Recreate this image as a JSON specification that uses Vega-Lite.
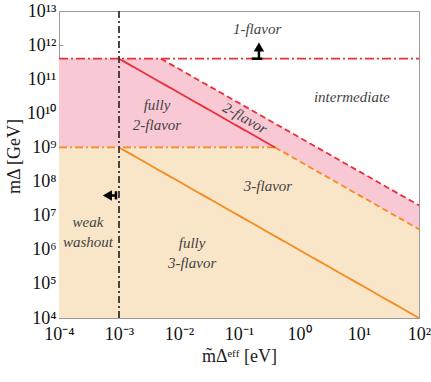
{
  "$schema": "https://vega.github.io/schema/vega-lite/v6.json",
  "width": 360,
  "height": 307,
  "autosize": "none",
  "padding": {"left": 59, "top": 11, "right": 12, "bottom": 64},
  "background": "white",
  "config": {
    "view": {"stroke": "#9a9a9a", "strokeWidth": 1},
    "font": "Liberation Serif",
    "axis": {
      "grid": false,
      "domainColor": "#9a9a9a",
      "tickColor": "#9a9a9a",
      "tickSize": -4,
      "labelFont": "Liberation Serif",
      "labelFontSize": 18,
      "labelColor": "#111",
      "titleFont": "Liberation Serif",
      "titleFontSize": 18,
      "titleFontWeight": "normal",
      "titleColor": "#222"
    }
  },
  "datasets": {
    "regions": [
      {"region": "3-flavor", "x": 0.0001, "lo": 10000, "hi": 1e9},
      {"region": "3-flavor", "x": 0.4, "lo": 10000, "hi": 1e9},
      {"region": "3-flavor", "x": 100, "lo": 10000, "hi": 4e6},
      {"region": "2-flavor", "x": 0.0001, "lo": 1e9, "hi": 4e11},
      {"region": "2-flavor", "x": 0.005, "lo": 1e9, "hi": 4e11},
      {"region": "2-flavor", "x": 0.4, "lo": 1e9, "hi": 5e9},
      {"region": "2-flavor", "x": 100, "lo": 4e6, "hi": 2e7}
    ],
    "lines": [
      {"series": "1-flavor bound", "i": 0, "x": 0.0001, "y": 4e11},
      {"series": "1-flavor bound", "i": 1, "x": 100, "y": 4e11},
      {"series": "3-flavor bound", "i": 0, "x": 0.0001, "y": 1e9},
      {"series": "3-flavor bound", "i": 1, "x": 0.4, "y": 1e9},
      {"series": "fully 2-flavor edge", "i": 0, "x": 0.001, "y": 4e11},
      {"series": "fully 2-flavor edge", "i": 1, "x": 0.4, "y": 1e9},
      {"series": "fully 3-flavor edge", "i": 0, "x": 0.001, "y": 1e9},
      {"series": "fully 3-flavor edge", "i": 1, "x": 100, "y": 10000},
      {"series": "2-flavor edge", "i": 0, "x": 0.005, "y": 4e11},
      {"series": "2-flavor edge", "i": 1, "x": 100, "y": 2e7},
      {"series": "3-flavor edge", "i": 0, "x": 0.4, "y": 1e9},
      {"series": "3-flavor edge", "i": 1, "x": 100, "y": 4e6},
      {"series": "washout", "i": 0, "x": 0.001, "y": 10000},
      {"series": "washout", "i": 1, "x": 0.001, "y": 1e13}
    ],
    "arrowRules": [
      {"x": 0.163, "x2": 0.248, "y": 4e11, "y2": 4e11},
      {"x": 0.215, "x2": 0.215, "y": 4e11, "y2": 7.5e11},
      {"x": 0.00089, "x2": 0.00089, "y": 3.0e7, "y2": 5.2e7},
      {"x": 0.00068, "x2": 0.00089, "y": 3.9e7, "y2": 3.9e7}
    ],
    "arrowHeads": [
      {"dir": "up", "x": 0.215, "y": 8.8e11},
      {"dir": "left", "x": 0.00064, "y": 3.9e7}
    ],
    "labels": [
      {"t": "1-flavor", "x": 0.2, "y": 2.95e12},
      {"t": "intermediate", "x": 7.6, "y": 3.0e10},
      {"t": "fully", "x": 0.0043, "y": 1.8e10},
      {"t": "2-flavor", "x": 0.0043, "y": 4.6e9},
      {"t": "3-flavor", "x": 0.304, "y": 7.4e7},
      {"t": "weak", "x": 0.000304, "y": 6.5e6},
      {"t": "washout", "x": 0.000304, "y": 1.7e6},
      {"t": "fully", "x": 0.0165, "y": 1.58e6},
      {"t": "3-flavor", "x": 0.0165, "y": 4.1e5}
    ],
    "rotLabels": [
      {"t": "2-flavor", "x": 0.126, "y": 7.3e9}
    ]
  },
  "layer": [
    {
      "data": {"name": "regions"},
      "mark": {"type": "area", "opacity": 1},
      "encoding": {
        "x": {"field": "x", "type": "quantitative", "scale": {"type": "log", "domain": [0.0001, 100], "nice": false},
          "axis": {"values": [0.0001, 0.001, 0.01, 0.1, 1, 10, 100],
            "labelExpr": "['10⁻⁴','10⁻³','10⁻²','10⁻¹','10⁰','10¹','10²'][round(log(datum.value)/LN10)+4]",
            "labelPadding": 11, "labelFlush": false,
            "title": "m̃Δᵉᶠᶠ [eV]", "titlePadding": 4}},
        "y": {"field": "lo", "type": "quantitative", "scale": {"type": "log", "domain": [10000, 1e13], "nice": false},
          "axis": {"values": [10000, 100000, 1000000, 10000000, 100000000, 1000000000, 10000000000, 100000000000, 1000000000000, 10000000000000],
            "labelExpr": "['10⁴','10⁵','10⁶','10⁷','10⁸','10⁹','10¹⁰','10¹¹','10¹²','10¹³'][round(log(datum.value)/LN10)-4]",
            "labelPadding": 7, "labelFlush": false,
            "title": "mΔ  [GeV]", "titleX": -45, "titleY": 145, "titleBaseline": "middle"}},
        "y2": {"field": "hi"},
        "fill": {"field": "region", "type": "nominal", "scale": {"domain": ["3-flavor", "2-flavor"], "range": ["#f9e5c8", "#f8c8d5"]}, "legend": null},
        "detail": {"field": "region"}
      }
    },
    {
      "data": {"name": "lines"},
      "mark": {"type": "line", "strokeWidth": 1.8},
      "encoding": {
        "x": {"field": "x", "type": "quantitative"},
        "y": {"field": "y", "type": "quantitative"},
        "order": {"field": "i"},
        "detail": {"field": "series"},
        "stroke": {"field": "series", "type": "nominal", "legend": null,
          "scale": {"domain": ["1-flavor bound", "3-flavor bound", "fully 2-flavor edge", "fully 3-flavor edge", "2-flavor edge", "3-flavor edge", "washout"],
            "range": ["#e8303a", "#f58a1f", "#e8303a", "#f58a1f", "#e8303a", "#f58a1f", "#333333"]}},
        "strokeDash": {"field": "series", "type": "nominal", "legend": null,
          "scale": {"domain": ["1-flavor bound", "3-flavor bound", "fully 2-flavor edge", "fully 3-flavor edge", "2-flavor edge", "3-flavor edge", "washout"],
            "range": [[9, 3, 2, 3], [8, 3, 2, 3], [1, 0], [1, 0], [6, 3.5], [6, 3.5], [7, 3, 2, 3]]}}
      }
    },
    {
      "data": {"name": "arrowRules"},
      "mark": {"type": "rule", "color": "black", "strokeWidth": 2.5},
      "encoding": {
        "x": {"field": "x", "type": "quantitative"},
        "x2": {"field": "x2"},
        "y": {"field": "y", "type": "quantitative"},
        "y2": {"field": "y2"}
      }
    },
    {
      "data": {"name": "arrowHeads"},
      "mark": {"type": "point", "filled": true, "color": "black", "size": 110, "opacity": 1},
      "encoding": {
        "x": {"field": "x", "type": "quantitative"},
        "y": {"field": "y", "type": "quantitative"},
        "shape": {"field": "dir", "type": "nominal", "legend": null, "scale": {"domain": ["up", "left"], "range": ["triangle-up", "triangle-left"]}}
      }
    },
    {
      "data": {"name": "labels"},
      "mark": {"type": "text", "font": "Liberation Serif", "fontStyle": "italic", "fontSize": 15, "color": "#444"},
      "encoding": {
        "x": {"field": "x", "type": "quantitative"},
        "y": {"field": "y", "type": "quantitative"},
        "text": {"field": "t"}
      }
    },
    {
      "data": {"name": "rotLabels"},
      "mark": {"type": "text", "font": "Liberation Serif", "fontStyle": "italic", "fontSize": 15, "color": "#444", "angle": 29.6},
      "encoding": {
        "x": {"field": "x", "type": "quantitative"},
        "y": {"field": "y", "type": "quantitative"},
        "text": {"field": "t"}
      }
    }
  ]
}
